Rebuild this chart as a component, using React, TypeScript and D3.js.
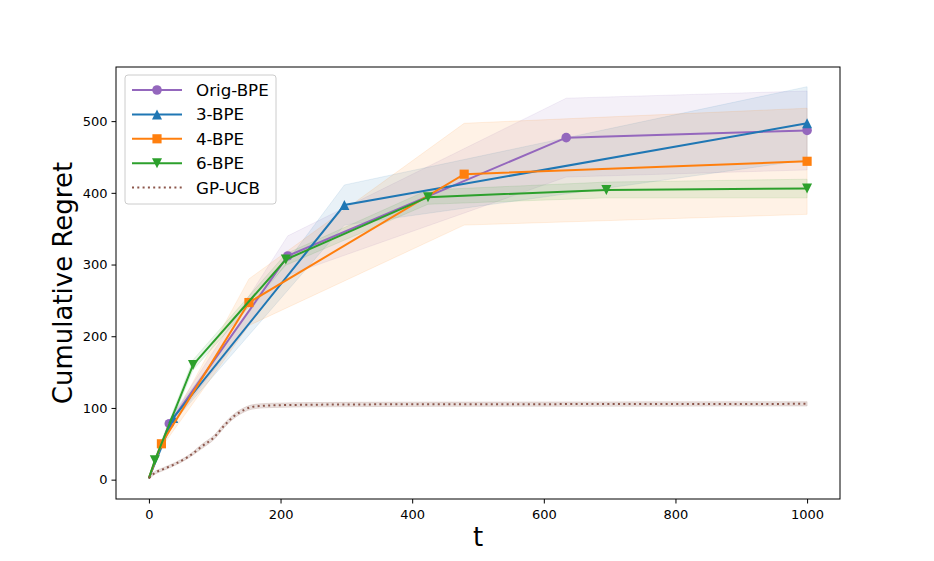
import React, { useEffect, useRef } from "react";
import * as d3 from "d3";

// values
const origT = [0, 31, 211, 634, 1000];
const origMean = [2, 78, 312, 477, 487];
const origLo = [1, 73, 285, 422, 432];
const origHi = [3, 83, 340, 532, 542];

const bpe3T = [0, 37, 297, 1000];
const bpe3Mean = [2, 86, 383, 497];
const bpe3Lo = [1, 80, 355, 446];
const bpe3Hi = [3, 92, 411, 548];

const bpe4T = [0, 19, 152, 479, 1000];
const bpe4Mean = [2, 50, 247, 426, 444];
const bpe4Lo = [1, 45, 215, 355, 370];
const bpe4Hi = [3, 55, 280, 497, 518];

const bpe6T = [0, 9, 67, 208, 424, 695, 1000];
const bpe6Mean = [2, 27, 160, 307, 394, 404, 406];
const bpe6Lo = [1, 24, 153, 299, 384, 393, 393];
const bpe6Hi = [3, 30, 167, 315, 404, 415, 419];

const ucbT = [0, 10, 20, 40, 60, 80, 100, 115, 130, 145, 155, 170, 190, 220, 260, 320, 400, 500, 600, 700, 800, 900, 1000];
const ucbMean = [2, 10, 14, 22, 32, 46, 60, 76, 89, 97.5, 101, 102.8, 103.6, 104.2, 104.6, 104.9, 105.1, 105.2, 105.3, 105.4, 105.5, 105.6, 105.7];
const ucbLo = [1, 8, 12, 20, 30, 43, 57, 73, 86, 94.5, 98, 99.8, 100.6, 101.2, 101.6, 101.9, 102.1, 102.2, 102.3, 102.4, 102.5, 102.6, 102.7];
const ucbHi = [3, 12, 16, 24, 34, 49, 63, 79, 92, 100.5, 104, 105.8, 106.6, 107.2, 107.6, 107.9, 108.1, 108.2, 108.3, 108.4, 108.5, 108.6, 108.7];

const xTicks = [0, 200, 400, 600, 800, 1000];
const yTicks = [0, 100, 200, 300, 400, 500];

type Pt = { t: number; m: number; lo: number; hi: number };
type Series = {
  name: string;
  color: string;
  marker: d3.SymbolType | null;
  flip: boolean;
  size: number;
  dotted: boolean;
  pts: Pt[];
};

// matplotlib-style triangle: width == height
const tri: d3.SymbolType = {
  draw(context, size) {
    const h = Math.sqrt(size) / 2;
    context.moveTo(0, -h);
    context.lineTo(h, h);
    context.lineTo(-h, h);
    context.closePath();
  },
};

const zip = (t: number[], m: number[], lo: number[], hi: number[]): Pt[] =>
  t.map((d, i) => ({ t: d, m: m[i], lo: lo[i], hi: hi[i] }));

const series: Series[] = [
  { name: "Orig-BPE", color: "#9467bd", marker: d3.symbolCircle, flip: false, size: 72, dotted: false, pts: zip(origT, origMean, origLo, origHi) },
  { name: "3-BPE", color: "#1f77b4", marker: tri, flip: false, size: 100, dotted: false, pts: zip(bpe3T, bpe3Mean, bpe3Lo, bpe3Hi) },
  { name: "4-BPE", color: "#ff7f0e", marker: d3.symbolSquare, flip: false, size: 84, dotted: false, pts: zip(bpe4T, bpe4Mean, bpe4Lo, bpe4Hi) },
  { name: "6-BPE", color: "#2ca02c", marker: tri, flip: true, size: 100, dotted: false, pts: zip(bpe6T, bpe6Mean, bpe6Lo, bpe6Hi) },
  { name: "GP-UCB", color: "#8c564b", marker: null, flip: false, size: 0, dotted: true, pts: zip(ucbT, ucbMean, ucbLo, ucbHi) },
];

const App: React.FC = () => {
  const svgRef = useRef<SVGSVGElement>(null);

  useEffect(() => {
    if (!svgRef.current) return;
    const width = 934;
    const height = 561;
    const margin = { top: 67, right: 94, bottom: 62, left: 116 };
    const font = "DejaVu Sans, sans-serif";

    const x = d3
      .scaleLinear()
      .domain([-50, 1050])
      .range([margin.left, width - margin.right]);
    const y = d3
      .scaleLinear()
      .domain([-27, 575.5])
      .range([height - margin.bottom, margin.top]);

    const svg = d3.select(svgRef.current).attr("width", width).attr("height", height);
    svg.selectAll("*").remove();

    svg.append("rect").attr("width", width).attr("height", height).attr("fill", "#fff");

    // shaded bands first
    series.forEach((s) => {
      const area = d3
        .area<Pt>()
        .x((d) => x(d.t))
        .y0((d) => y(d.lo))
        .y1((d) => y(d.hi));
      if (s.dotted) area.curve(d3.curveMonotoneX);
      svg
        .append("path")
        .datum(s.pts)
        .attr("d", area)
        .attr("fill", s.color)
        .attr("fill-opacity", s.dotted ? 0.18 : 0.1)
        .attr("stroke", s.color)
        .attr("stroke-opacity", s.dotted ? 0.18 : 0.1)
        .attr("stroke-width", 1);
    });

    // mean lines + markers
    series.forEach((s) => {
      const line = d3
        .line<Pt>()
        .x((d) => x(d.t))
        .y((d) => y(d.m));
      if (s.dotted) line.curve(d3.curveMonotoneX);
      svg
        .append("path")
        .datum(s.pts)
        .attr("d", line)
        .attr("fill", "none")
        .attr("stroke", s.color)
        .attr("stroke-width", 2)
        .attr("stroke-dasharray", s.dotted ? "2,3.3" : null);

      if (s.marker) {
        const sym = d3.symbol().type(s.marker).size(s.size);
        svg
          .append("g")
          .selectAll("path")
          .data(s.pts.slice(1))
          .join("path")
          .attr("d", sym)
          .attr("fill", s.color)
          .attr(
            "transform",
            (d) => `translate(${x(d.t)},${y(d.m)})${s.flip ? " rotate(180)" : ""}`
          );
      }
    });

    // axes frame
    svg
      .append("rect")
      .attr("x", margin.left)
      .attr("y", margin.top)
      .attr("width", width - margin.left - margin.right)
      .attr("height", height - margin.top - margin.bottom)
      .attr("fill", "none")
      .attr("stroke", "#000")
      .attr("stroke-width", 1);

    const xAxis = svg
      .append("g")
      .attr("transform", `translate(0,${height - margin.bottom})`)
      .call(d3.axisBottom(x).tickValues(xTicks).tickSize(4.5).tickPadding(6).tickFormat((d) => `${d}`));
    const yAxis = svg
      .append("g")
      .attr("transform", `translate(${margin.left},0)`)
      .call(d3.axisLeft(y).tickValues(yTicks).tickSize(4.5).tickPadding(4).tickFormat((d) => `${d}`));
    [xAxis, yAxis].forEach((a) => {
      a.select(".domain").remove();
      a.selectAll("text").attr("font-family", font).attr("font-size", 13).attr("fill", "#000");
      a.selectAll("line").attr("stroke", "#000");
    });

    svg
      .append("text")
      .attr("x", (margin.left + width - margin.right) / 2)
      .attr("y", 546)
      .attr("text-anchor", "middle")
      .attr("font-family", font)
      .attr("font-size", 26)
      .text("t");

    svg
      .append("text")
      .attr("transform", `translate(72,${(margin.top + height - margin.bottom) / 2}) rotate(-90)`)
      .attr("text-anchor", "middle")
      .attr("font-family", font)
      .attr("font-size", 26)
      .text("Cumulative Regret");

    // legend
    const lg = svg.append("g");
    lg.append("rect")
      .attr("x", 125)
      .attr("y", 75)
      .attr("width", 151)
      .attr("height", 129)
      .attr("rx", 3)
      .attr("fill", "#fff")
      .attr("fill-opacity", 0.8)
      .attr("stroke", "#cccccc");
    series.forEach((s, i) => {
      const ry = 90 + i * 24.4;
      lg.append("line")
        .attr("x1", 132)
        .attr("x2", 182)
        .attr("y1", ry)
        .attr("y2", ry)
        .attr("stroke", s.color)
        .attr("stroke-width", 2)
        .attr("stroke-dasharray", s.dotted ? "2,3.3" : null);
      if (s.marker) {
        lg.append("path")
          .attr("d", d3.symbol().type(s.marker).size(s.size)())
          .attr("fill", s.color)
          .attr("transform", `translate(157,${ry})${s.flip ? " rotate(180)" : ""}`);
      }
      lg.append("text")
        .attr("x", 196)
        .attr("y", ry)
        .attr("dy", "0.36em")
        .attr("font-family", font)
        .attr("font-size", 16.7)
        .text(s.name);
    });
  }, []);

  return (
    <div style={{ position: "absolute", left: 0, top: 0 }}>
      <svg ref={svgRef}></svg>
    </div>
  );
};

export default App;
